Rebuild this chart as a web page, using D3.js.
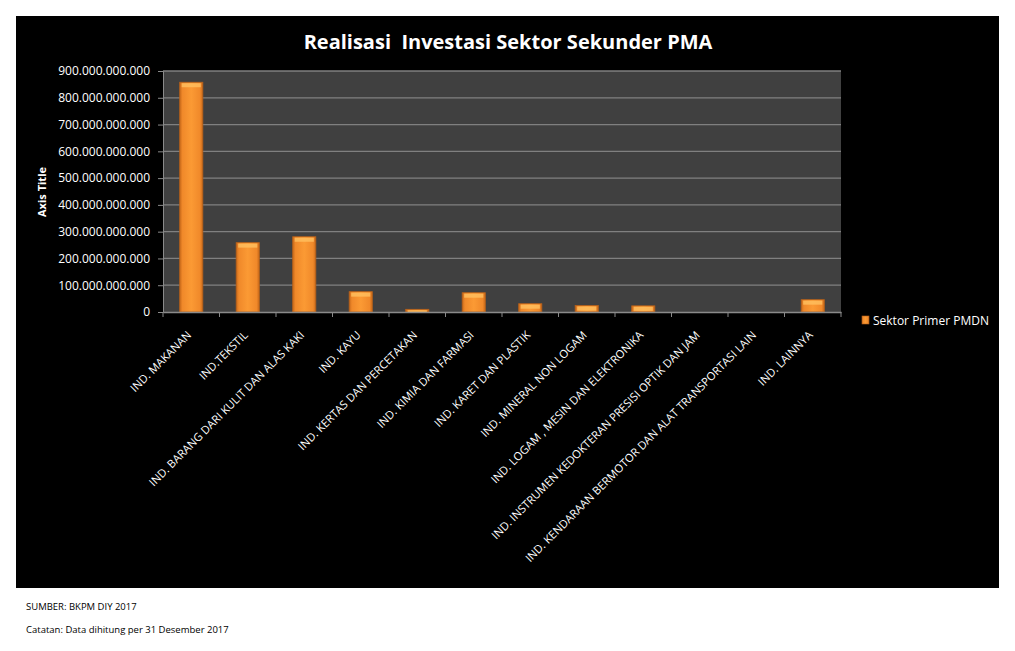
<!DOCTYPE html>
<html><head><meta charset="utf-8">
<script src="https://cdn.jsdelivr.net/npm/d3@7"></script>
<style>body{margin:0;background:#fff;}svg{display:block;}</style>
</head><body>
<svg id="c" width="1015" height="651"></svg>
<script>
const categories = ["IND. MAKANAN","IND.TEKSTIL","IND. BARANG DARI KULIT DAN ALAS KAKI","IND. KAYU","IND. KERTAS DAN PERCETAKAN","IND. KIMIA DAN FARMASI","IND. KARET DAN PLASTIK","IND. MINERAL NON LOGAM","IND. LOGAM , MESIN DAN ELEKTRONIKA","IND. INSTRUMEN KEDOKTERAN PRESISI OPTIK DAN JAM","IND. KENDARAAN BERMOTOR DAN ALAT TRANSPORTASI LAIN","IND. LAINNYA"];
const values = [858e9, 259e9, 281e9, 76e9, 10e9, 72e9, 31e9, 24e9, 23e9, 0, 0, 46e9];
const yTicks = [0,100e9,200e9,300e9,400e9,500e9,600e9,700e9,800e9,900e9];
const seriesName = "Sektor Primer PMDN";
const title = "Realisasi  Investasi Sektor Sekunder PMA";

const svg = d3.select("#c");
const font = "'Open Sans', 'Noto Sans', sans-serif";
svg.append("rect").attr("x",16).attr("y",16).attr("width",983).attr("height",572).attr("fill","#000");

const L=163,R=841,T=71,B=312;
const x = d3.scaleBand().domain(categories).range([L,R]).paddingInner(0.59).paddingOuter(0.295);
const y = d3.scaleLinear().domain([0,900e9]).range([B,T]);

const defs = svg.append("defs");
const g1 = defs.append("linearGradient").attr("id","bar").attr("x1","0").attr("x2","1").attr("y1","0").attr("y2","0");
g1.append("stop").attr("offset","0").attr("stop-color","#c8691a");
g1.append("stop").attr("offset","0.12").attr("stop-color","#f0892a");
g1.append("stop").attr("offset","0.5").attr("stop-color","#fb9a34");
g1.append("stop").attr("offset","0.88").attr("stop-color","#f0892a");
g1.append("stop").attr("offset","1").attr("stop-color","#c8691a");

svg.append("rect").attr("x",L).attr("y",T).attr("width",R-L).attr("height",B-T).attr("fill","#404040");

// grid
svg.append("g").selectAll("line").data(yTicks.slice(1)).join("line")
  .attr("x1",L).attr("x2",R).attr("y1",d=>y(d)).attr("y2",d=>y(d))
  .attr("stroke","#808080").attr("stroke-width",1.3);

const fmt = v => v===0 ? "0" : d3.format(",")(v).replace(/,/g,".");
const ya = svg.append("g").attr("transform",`translate(${L},0)`)
  .call(d3.axisLeft(y).tickValues(yTicks).tickFormat(fmt).tickSize(5).tickPadding(8));
ya.select(".domain").attr("stroke","#8a8a8a");
ya.selectAll(".tick line").attr("stroke","#8a8a8a");
ya.selectAll("text").attr("fill","#fff").style("font-family",font).style("font-size","12px");

// bars
const bars = svg.append("g").selectAll("g").data(categories.map((c,i)=>({c,v:values[i]}))).join("g");
bars.filter(d=>d.v>0).append("rect")
  .attr("x",d=>x(d.c)).attr("y",d=>y(d.v)).attr("width",x.bandwidth()).attr("height",d=>B-y(d.v))
  .attr("fill","url(#bar)").attr("stroke","#b5601a").attr("stroke-width",0.8);
bars.filter(d=>d.v>0).append("rect")
  .attr("x",d=>x(d.c)+2).attr("y",d=>y(d.v)+1).attr("width",x.bandwidth()-4).attr("height",d=>Math.min(4,B-y(d.v)-1))
  .attr("fill","#ffc060").attr("opacity",0.8);

// x axis
const xa = svg.append("g").attr("transform",`translate(0,${B})`)
  .call(d3.axisBottom(x).tickSize(0).tickPadding(0));
xa.select(".domain").attr("stroke","#8a8a8a").attr("stroke-width",1.5);
xa.selectAll("text").attr("fill","#fff").style("font-family",font).style("font-size","11.2px")
  .attr("text-anchor","end").attr("x",0).attr("y",0).attr("dy","0.35em")
  .attr("transform","translate(-2,21) rotate(-45)");
// category separator ticks
const edges = categories.map(c=>x(c)-x.step()*x.paddingInner()/2).concat([R]);
svg.append("g").selectAll("line").data(edges).join("line")
  .attr("x1",d=>d).attr("x2",d=>d).attr("y1",B).attr("y2",B+5).attr("stroke","#8a8a8a");

// axis title
svg.append("text").attr("transform","translate(46,192) rotate(-90)").attr("text-anchor","middle")
  .attr("fill","#fff").style("font-family",font).style("font-size","11px").style("font-weight","bold").text("Axis Title");

// title
svg.append("text").attr("x",508).attr("y",49).attr("text-anchor","middle").attr("fill","#fff")
  .style("font-family",font).style("font-size","20px").style("font-weight","bold").style("white-space","pre").text(title);

// legend
svg.append("rect").attr("x",862).attr("y",316).attr("width",7).attr("height",8).attr("fill","url(#bar)").attr("stroke","#b5601a").attr("stroke-width",0.6);
svg.append("text").attr("x",873).attr("y",324.5).attr("fill","#fff").style("font-family",font).style("font-size","12px").text(seriesName);

// footnotes
svg.append("text").attr("x",26).attr("y",610).attr("fill","#000").style("font-family",font).style("font-size","9.5px").text("SUMBER: BKPM DIY 2017");
svg.append("text").attr("x",26).attr("y",633).attr("fill","#000").style("font-family",font).style("font-size","9.5px").text("Catatan: Data dihitung per 31 Desember 2017");
</script>
</body></html>
